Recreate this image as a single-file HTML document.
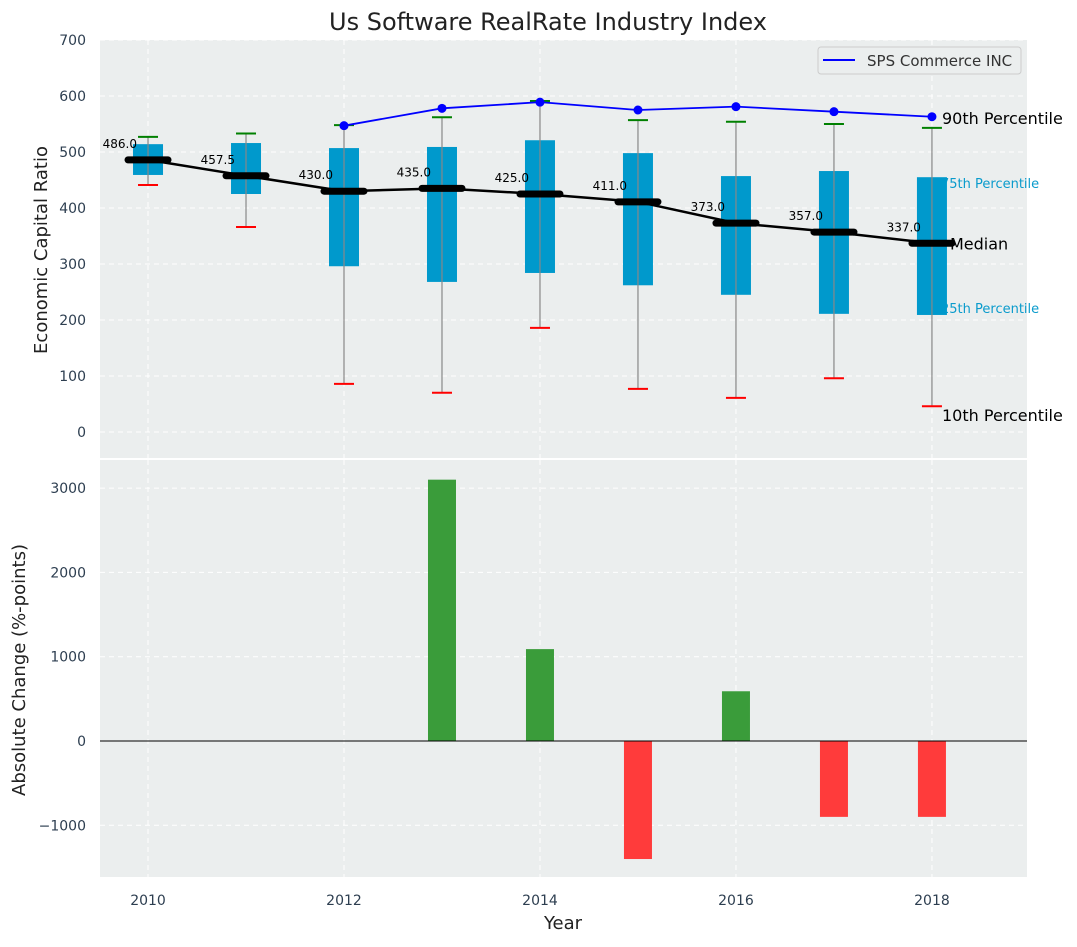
<!DOCTYPE html>
<html><head><meta charset="utf-8"><style>
body{margin:0;background:#fff;}
svg text{font-family:"DejaVu Sans","Liberation Sans",sans-serif;}
</style></head><body>
<svg id="c" width="1077" height="942" xmlns="http://www.w3.org/2000/svg"></svg>
<script>
const years=[2010,2011,2012,2013,2014,2015,2016,2017,2018];
const medians=[486.0,457.5,430.0,435.0,425.0,411.0,373.0,357.0,337.0];
const q1=[459,425,296,268,284,262,245,211,209];
const q3=[514,516,507,509,521,498,457,466,455];
const p10=[441,366,86,70,186,77,61,96,46];
const p90=[527,533,548,562,591,557,554,550,543];
const spsYears=[2012,2013,2014,2015,2016,2017,2018];
const spsValues=[547,578,589,575,581,572,563];
const changeYears=[2013,2014,2015,2016,2017,2018];
const changeValues=[3100,1090,-1400,590,-900,-900];
const topTicks=[0,100,200,300,400,500,600,700];
const botTicks=[-1000,0,1000,2000,3000];
const xTicks=[2010,2012,2014,2016,2018];

const NS='http://www.w3.org/2000/svg';
const svg=document.getElementById('c');
function el(tag,attrs,parent){const e=document.createElementNS(NS,tag);for(const k in attrs)e.setAttribute(k,attrs[k]);(parent||svg).appendChild(e);return e;}
const L=100,R=1027;
const x=v=>L+(v-2009.51)/(2018.97-2009.51)*(R-L);
const yT=v=>432-v*0.56;
const yB=v=>741-v*0.0843;

let e=el('rect',{x:L,y:40,width:R-L,height:418,fill:'#ebeeee'});

e=el('rect',{x:L,y:460,width:R-L,height:417,fill:'#ebeeee'});


xTicks.forEach(t=>{
  el('line',{x1:x(t),x2:x(t),y1:40,y2:458,stroke:'#fff','stroke-dasharray':'5,4','stroke-width':1});
  el('line',{x1:x(t),x2:x(t),y1:460,y2:877,stroke:'#fff','stroke-dasharray':'5,4','stroke-width':1});
  e=el('text',{x:x(t),y:905,'text-anchor':'middle','font-size':14,fill:'#2d3e50'});e.textContent=t;
  
});
topTicks.forEach(t=>{
  el('line',{x1:L,x2:R,y1:yT(t),y2:yT(t),stroke:'#fff','stroke-dasharray':'5,4'});
  e=el('text',{x:86,y:yT(t)+5,'text-anchor':'end','font-size':14,fill:'#2d3e50'});e.textContent=t;
  
});
botTicks.forEach(t=>{
  el('line',{x1:L,x2:R,y1:yB(t),y2:yB(t),stroke:'#fff','stroke-dasharray':'5,4'});
  e=el('text',{x:86,y:yB(t)+5,'text-anchor':'end','font-size':14,fill:'#2d3e50'});e.textContent=(t<0?'\u2212'+(-t):t);
  
});

const last=years.length-1;
function lab(txt,yy,col,fs,name,xx){const t=el('text',{x:xx,y:yy,'font-size':fs,fill:col});t.textContent=txt;
}
lab('75th Percentile',yT(q3[last])+11,'#0a9bcc',13,'label-75th',941);
lab('25th Percentile',yT(q1[last])-2,'#0a9bcc',13,'label-25th',941);

years.forEach((yr,i)=>{
  const cx=x(yr);
  e=el('rect',{x:cx-15,y:yT(q3[i]),width:30,height:yT(q1[i])-yT(q3[i]),fill:'#0099cc'});
  
  el('line',{x1:cx,x2:cx,y1:yT(p90[i]),y2:yT(p10[i]),stroke:'#888','stroke-width':1.2});
  el('line',{x1:cx-10,x2:cx+10,y1:yT(p90[i]),y2:yT(p90[i]),stroke:'green','stroke-width':2});
  el('line',{x1:cx-10,x2:cx+10,y1:yT(p10[i]),y2:yT(p10[i]),stroke:'red','stroke-width':2});
});
e=el('polyline',{points:years.map((yr,i)=>x(yr)+','+yT(medians[i])).join(' '),fill:'none',stroke:'#000','stroke-width':2.5});

years.forEach((yr,i)=>{
  const cx=x(yr);
  e=el('line',{x1:cx-20,x2:cx+20,y1:yT(medians[i]),y2:yT(medians[i]),stroke:'#000','stroke-width':7,'stroke-linecap':'round'});
  
  e=el('text',{x:cx-11,y:yT(medians[i])-12,'text-anchor':'end','font-size':12,fill:'#000'});e.textContent=medians[i].toFixed(1);
  
});
e=el('polyline',{points:spsYears.map((yr,i)=>x(yr)+','+yT(spsValues[i])).join(' '),fill:'none',stroke:'blue','stroke-width':1.8});

spsYears.forEach((yr,i)=>{e=el('circle',{cx:x(yr),cy:yT(spsValues[i]),r:4.5,fill:'blue'});
});

lab('90th Percentile',yT(p90[last])-4,'#000',16,'label-90th',942);
lab('Median',yT(medians[last])+6,'#000',16,'label-median',950);
lab('10th Percentile',yT(p10[last])+15,'#000',16,'label-10th',942);

let g=el('g',{});
el('rect',{x:818,y:47,width:203,height:27,rx:3,fill:'#ebeeee',stroke:'#ccc'},g);
el('line',{x1:823,x2:855,y1:60,y2:60,stroke:'blue','stroke-width':2},g);
e=el('text',{x:867,y:66,'font-size':15,fill:'#333'},g);e.textContent='SPS Commerce INC';

changeYears.forEach((yr,i)=>{
  const v=changeValues[i];
  e=el('rect',{x:x(yr)-14,y:Math.min(yB(v),yB(0)),width:28,height:Math.abs(yB(v)-yB(0)),fill:v>=0?'#3a9c3a':'#ff3b3b'});
  
});
el('line',{x1:L,x2:R,y1:yB(0),y2:yB(0),stroke:'#000','stroke-width':1});

e=el('text',{x:548,y:30,'text-anchor':'middle','font-size':24,fill:'#222'});e.textContent='Us Software RealRate Industry Index';

e=el('text',{x:563,y:929,'text-anchor':'middle','font-size':18,fill:'#222'});e.textContent='Year';

e=el('text',{x:0,y:0,'text-anchor':'middle','font-size':18,fill:'#222',transform:'translate(47,250) rotate(-90)'});e.textContent='Economic Capital Ratio';

e=el('text',{x:0,y:0,'text-anchor':'middle','font-size':18,fill:'#222',transform:'translate(25,670) rotate(-90)'});e.textContent='Absolute Change (%-points)';

</script>
</body></html>
